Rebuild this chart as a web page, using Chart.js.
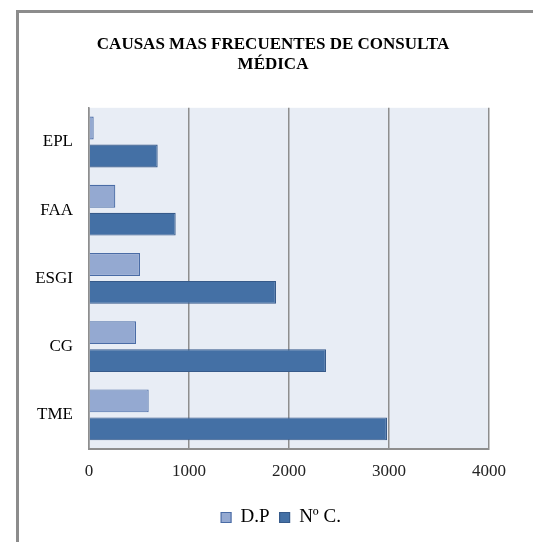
<!DOCTYPE html>
<html>
<head>
<meta charset="utf-8">
<script src="https://cdn.jsdelivr.net/npm/chart.js@4/dist/chart.umd.min.js"></script>
<style>
  html, body { margin: 0; padding: 0; background: #fff; }
  #frame {
    position: absolute; left: 16px; top: 10px; width: 600px; height: 600px;
    border-left: 3px solid #8c8c8c; border-top: 3px solid #8c8c8c;
  }
  #wrap { position: absolute; left: 0; top: 0; width: 533px; height: 542px; }
</style>
</head>
<body>
<div id="frame"></div>
<div id="wrap"><canvas id="chart"></canvas></div>
<script>
// datos del grafico
const categorias = ["EPL", "FAA", "ESGI", "CG", "TME"];
const serieDP = [47, 263, 510, 470, 597];
const serieNC = [687, 867, 1870, 2370, 2980];
const nombres = ["D.P", "Nº C."];
const ejeTicks = [0, 1000, 2000, 3000, 4000];

const fuente = "'Liberation Serif', serif";

// fondo del area de trazado
const fondoPlot = {
    id: 'fondoPlot',
    beforeDraw(chart) {
        const a = chart.chartArea;
        const ctx = chart.ctx;
        ctx.save();
        ctx.fillStyle = '#e8edf5';
        ctx.fillRect(a.left, a.top, a.right - a.left, a.bottom - a.top);
        ctx.restore();
    }
};

// leyenda un poco a la derecha, como en el original
const moverLeyenda = {
    id: 'moverLeyenda',
    afterLayout(chart) {
        chart.legend.left += 8;
        chart.legend.right += 8;
    }
};

const ctx = document.getElementById('chart').getContext('2d');

new Chart(ctx, {
    type: 'bar',
    data: {
        labels: categorias,
        datasets: [{
            label: nombres[0],
            data: serieDP,
            backgroundColor: '#94a9d1',
            borderColor: '#4a6ca6',
            borderWidth: 1.2,
            categoryPercentage: 0.82,
            barPercentage: 0.82
        }, {
            label: nombres[1],
            data: serieNC,
            backgroundColor: '#4470a5',
            borderColor: '#365a8a',
            borderWidth: 1.2,
            categoryPercentage: 0.82,
            barPercentage: 0.82
        }]
    },
    options: {
        indexAxis: 'y',
        responsive: true,
        maintainAspectRatio: false,
        animation: false,
        layout: { padding: { left: 13, right: 0, top: 24, bottom: 5 } },
        plugins: {
            title: {
                display: true,
                text: ["CAUSAS MAS FRECUENTES DE CONSULTA", "MÉDICA"],
                color: '#000',
                font: { family: fuente, size: 17, weight: 'bold', lineHeight: 1.2 },
                padding: { top: 10, bottom: 33 }
            },
            legend: {
                position: 'bottom',
                labels: {
                    color: '#000',
                    font: { family: fuente, size: 19 },
                    boxWidth: 10,
                    boxHeight: 10,
                    padding: 10
                }
            },
            tooltip: { enabled: false }
        },
        scales: {
            x: {
                min: 0,
                max: 4000,
                afterBuildTicks: s => { s.ticks = ejeTicks.map(v => ({ value: v })); },
                afterFit: s => { s.paddingRight = 44; s.height = 49; },
                grid: { color: '#8e8e8e', lineWidth: 1.5, drawTicks: false },
                border: { display: true, color: '#8e8e8e', width: 2 },
                ticks: {
                    color: '#222',
                    padding: 12,
                    font: { family: fuente, size: 17 },
                    callback: v => String(v)
                }
            },
            y: {
                afterFit: s => { s.width = 76; },
                grid: { display: false, drawTicks: false },
                border: { display: true, color: '#8e8e8e', width: 1.5 },
                ticks: { color: '#000', padding: 16, font: { family: fuente, size: 17 } }
            }
        }
    },
    plugins: [fondoPlot, moverLeyenda]
});
</script>
</body>
</html>
